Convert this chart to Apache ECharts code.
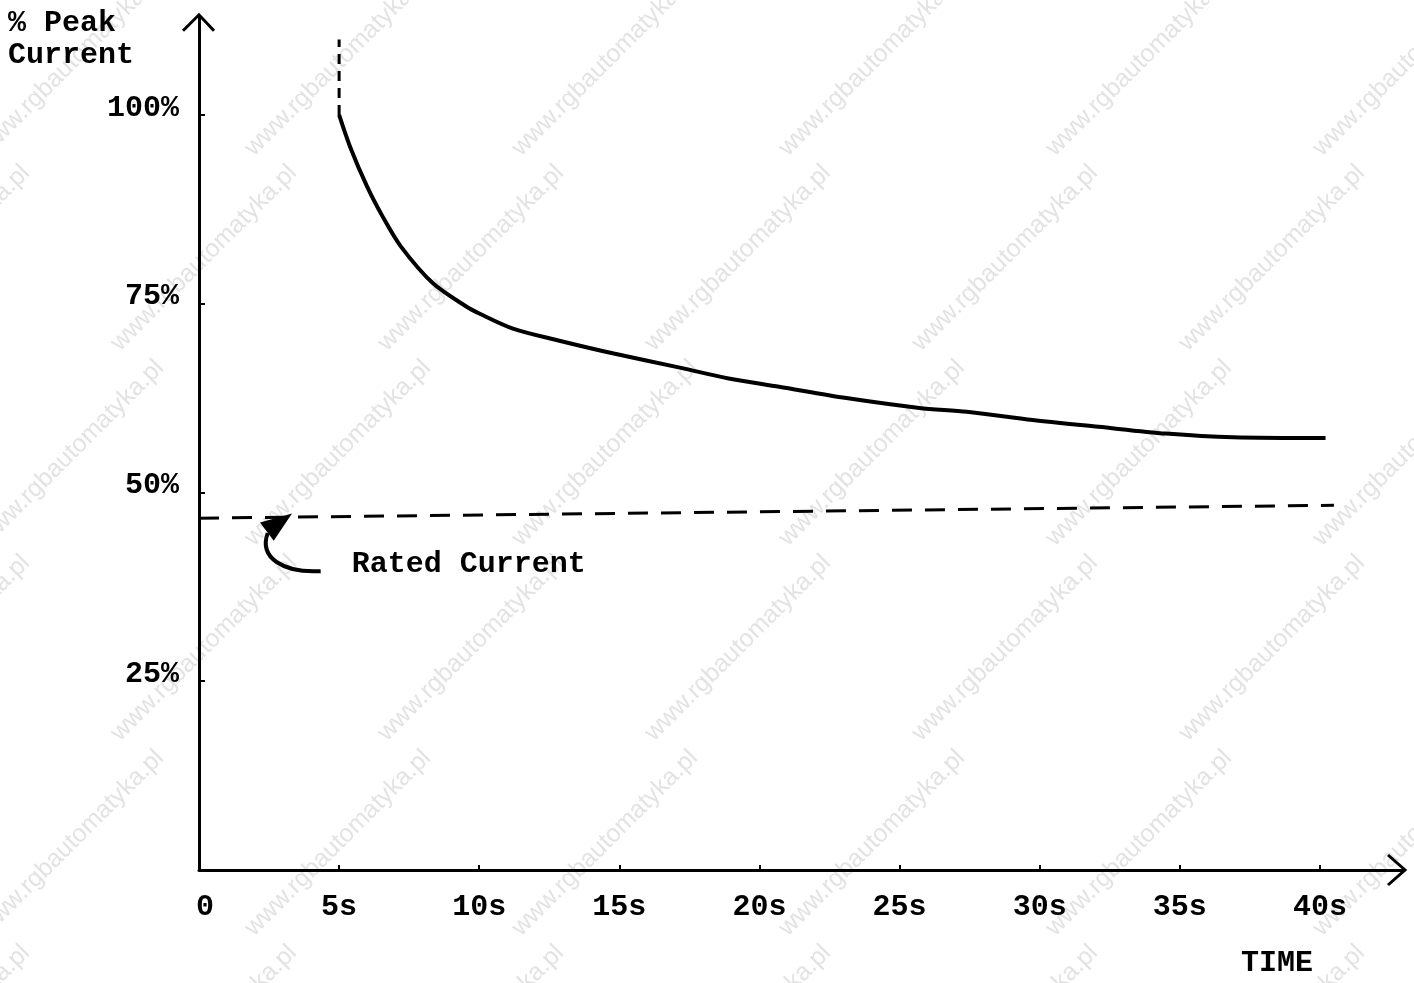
<!DOCTYPE html>
<html>
<head>
<meta charset="utf-8">
<script src="https://cdn.jsdelivr.net/npm/echarts@6/dist/echarts.min.js"></script>
<style>
html,body{margin:0;padding:0;background:#fff;}
#c{width:1414px;height:983px;}
</style>
</head>
<body>
<div id="c"></div>
<script>
// ---- data ----
const timeSec = [5, 5.39, 6, 6.56, 7.2, 8.35, 9.55, 10, 11.2, 12.75, 14.8, 17.2, 18.9, 20.7, 23.1, 25.7, 27.4, 29.75, 32.1, 34.5, 36.9, 40.2];
const peakPct = [100, 95.8, 90.5, 86.5, 82.6, 77.7, 74.6, 73.7, 71.7, 70.2, 68.4, 66.5, 65.1, 64.0, 62.5, 61.2, 60.7, 59.6, 58.7, 57.8, 57.3, 57.2];
const startTime = [5, 5];
const startPct = [100, 110];
const ratedTime = [0, 40.5];
const ratedPct = [46.6, 48.3];
const xTicks = [0, 5, 10, 15, 20, 25, 30, 35, 40];
const yTicks = [25, 50, 75, 100];
const yTitle = '% Peak\nCurrent';
const xTitle = 'TIME';
const ratedLabel = 'Rated Current';
const watermark = 'www.rgbautomatyka.pl';

const FONT = '"Liberation Mono", "Courier New", monospace';
const zip = (a, b) => a.map((v, i) => [v, b[i]]);

const chart = echarts.init(document.getElementById('c'));
chart.setOption({
  animation: false,
  backgroundColor: '#fff',
  grid: { left: 199, right: 10, top: 16.8, bottom: 113 },
  xAxis: {
    type: 'value', min: 0, max: 43, interval: 5,
    axisLine: { show: true, lineStyle: { color: '#000', width: 3 } },
    axisTick: { show: true, inside: true, length: 5, lineStyle: { color: '#000', width: 2 }, customValues: xTicks },
    axisLabel: {
      customValues: xTicks, margin: 22, color: '#000', fontFamily: FONT, fontSize: 30, fontWeight: 'bold',
      formatter: v => v === 0 ? '{z|0}' : v + 's',
      rich: { z: { padding: [0, 0, 0, 12], fontFamily: FONT, fontSize: 30, fontWeight: 'bold', color: '#000' } }
    },
    splitLine: { show: false }
  },
  yAxis: {
    type: 'value', min: 0, max: 113, interval: 25,
    axisLine: { show: true, lineStyle: { color: '#000', width: 3 } },
    axisTick: { show: true, inside: true, length: 6, lineStyle: { color: '#000', width: 2 }, customValues: yTicks },
    axisLabel: {
      customValues: yTicks, margin: 20, color: '#000', fontFamily: FONT, fontSize: 30, fontWeight: 'bold',
      formatter: v => '{a|' + v + '%}',
      rich: { a: { padding: [0, 0, 14, 0], fontFamily: FONT, fontSize: 30, fontWeight: 'bold', color: '#000' } }
    },
    splitLine: { show: false }
  },
  series: [
    {
      type: 'line', data: zip(timeSec, peakPct), smooth: 0.3, symbol: 'none', z: 5,
      lineStyle: { color: '#000', width: 4 }
    },
    {
      type: 'line', data: zip(startTime, startPct), symbol: 'none', z: 5,
      lineStyle: { color: '#000', width: 3, type: [10, 7] }
    },
    {
      type: 'line', data: zip(ratedTime, ratedPct), symbol: 'none', z: 5,
      lineStyle: { color: '#000', width: 3, type: [20, 13] }
    }
  ]
});

const px = (x, y) => chart.convertToPixel({ xAxisIndex: 0, yAxisIndex: 0 }, [x, y]);
const yTop = px(0, 113);
const xEnd = px(43, 0);
const anchor = px(3.2, 47.0);

const g = [];
// watermark tiles
for (let j = 0; j < 6; j++) {
  const y = 63 + 195 * j;
  const off = (j % 2) ? 133 : 0;
  for (let i = -1; i < 7; i++) {
    const x = 71 + off + 267 * i;
    g.push({
      type: 'text', x: x, y: y, rotation: Math.PI / 4, z: 0, silent: true,
      style: { text: watermark, fill: '#e3e3e3', font: '25px "Liberation Sans", Arial, sans-serif', textAlign: 'center', textVerticalAlign: 'middle' }
    });
  }
}
// axis arrow heads (open chevrons)
g.push({
  type: 'polyline', z: 10,
  shape: { points: [[yTop[0] - 16, yTop[1] + 14], [yTop[0], yTop[1] - 2], [yTop[0] + 15, yTop[1] + 14]] },
  style: { stroke: '#000', lineWidth: 3, fill: null }
});
g.push({
  type: 'polyline', z: 10,
  shape: { points: [[xEnd[0] - 16, xEnd[1] - 15], [xEnd[0] + 1, xEnd[1]], [xEnd[0] - 16, xEnd[1] + 15]] },
  style: { stroke: '#000', lineWidth: 3, fill: null }
});
// curved pointer to rated current line
const ax = anchor[0], ay = anchor[1];
g.push({
  type: 'bezierCurve', z: 10,
  shape: { x1: ax + 32, y1: ay + 56, cpx1: ax - 5, cpy1: ay + 58, cpx2: ax - 30, cpy2: ay + 43, x2: ax - 21, y2: ay + 18 },
  style: { stroke: '#000', lineWidth: 4, fill: null }
});
g.push({
  type: 'polygon', z: 10,
  shape: { points: [[ax + 1, ay], [ax - 27, ay + 8], [ax - 15, ay + 24]] },
  style: { fill: '#000', stroke: '#000', lineWidth: 2 }
});
g.push({
  type: 'text', z: 10, x: ax + 63, y: ay + 49,
  style: { text: ratedLabel, fill: '#000', font: 'bold 30px ' + FONT, textVerticalAlign: 'middle' }
});
// axis titles
g.push({
  type: 'text', z: 10, x: 8, y: 7,
  style: { text: yTitle, fill: '#000', font: 'bold 30px ' + FONT, lineHeight: 32, textVerticalAlign: 'top' }
});
g.push({
  type: 'text', z: 10, x: 1241, y: 963,
  style: { text: xTitle, fill: '#000', font: 'bold 30px ' + FONT, textVerticalAlign: 'middle' }
});
chart.setOption({ graphic: g });
</script>
</body>
</html>
